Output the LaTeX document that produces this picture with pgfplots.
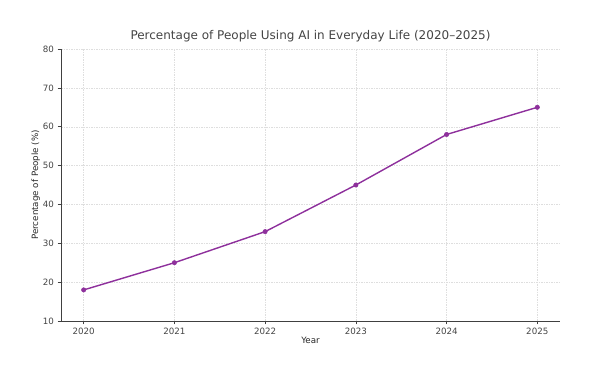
\documentclass[border=0pt]{standalone}
\usepackage{pgfplots}
\pgfplotsset{compat=1.18}
\usepackage{fontspec}
\setmainfont{DejaVu Sans}
\definecolor{lineP}{RGB}{142,48,156}
\definecolor{txt}{RGB}{68,68,68}
\begin{document}
\begin{tikzpicture}[x=1pt,y=1pt]
\useasboundingbox (0,0) rectangle (606,383);
\begin{axis}[
  at={(61pt,62pt)}, anchor=south west,
  width=499pt, height=272pt, scale only axis,
  xmin=2019.75, xmax=2025.25, ymin=10, ymax=80,
  xtick={2020,2021,2022,2023,2024,2025},
  ytick={10,20,30,40,50,60,70,80},
  xticklabel style={/pgf/number format/1000 sep=},
  /pgf/number format/assume math mode=true,
  axis x line*=bottom, axis y line*=left,
  axis line style={draw=black!75, line width=0.7pt},
  tick style={draw=black!75, line width=0.6pt},
  tick align=outside, major tick length=3.5pt,
  x axis line style={-}, y axis line style={-},
  grid=major,
  grid style={dash pattern=on 1.5pt off 1pt, draw=black!13, line width=0.4pt},
  ticklabel style={font=\fontsize{8.7}{10}\selectfont, text=txt},
  title={Percentage of People Using AI in Everyday Life (2020–2025)},
  title style={font=\fontsize{12}{14}\selectfont, text=txt, yshift=-3pt},
  xlabel={Year}, ylabel={Percentage of People (\%)},
  label style={font=\fontsize{8.7}{10}\selectfont, text=black!85},
  xlabel style={yshift=4pt},
  ylabel style={yshift=-4pt},
]
\addplot[color=lineP, line width=1.4pt, mark=*, mark size=2.2pt, mark options={solid, fill=lineP, draw=lineP, line width=0.5pt}]
coordinates {(2020,18) (2021,25) (2022,33) (2023,45) (2024,58) (2025,65)};
\end{axis}
\end{tikzpicture}
\end{document}
